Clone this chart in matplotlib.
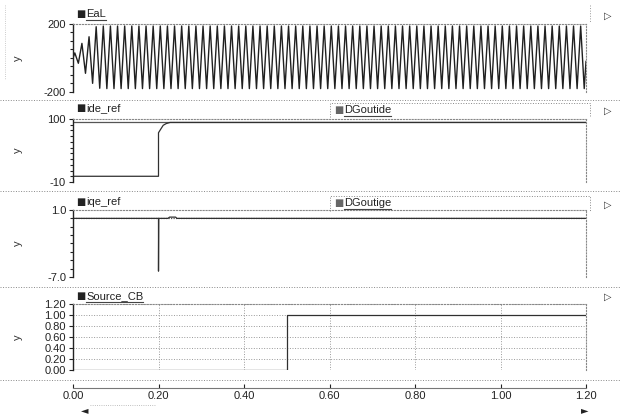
import numpy as np
import matplotlib
matplotlib.use("Agg")
import matplotlib.pyplot as plt
from matplotlib.lines import Line2D

W, H = 620, 419

# --- data ---
# EaL: 60 Hz voltage, half-cycle peak values (start-up transient, then steady)
eal_half_period = 1 / 120
eal_first_peak = 0.0042
eal_peaks = [30, -31, 86, -90, 125, -149, 184, -178,
             188, -180, 188, -180, 188, -180, 188, -180,
             188, -180, 188, -180, 188, -180, 188, -180,
             188, -180, 188, -180, 188, -180, 188, -180,
             188, -180, 188, -180, 188, -180, 188, -180,
             188, -180, 188, -180, 188, -180, 188, -180,
             188, -180, 188, -180, 188, -180, 188, -180,
             188, -180, 188, -180, 188, -180, 188, -180,
             188, -180, 188, -180, 188, -180, 188, -180,
             188, -180, 188, -180, 188, -180, 188, -180,
             188, -180, 188, -180, 188, -180, 188, -180,
             188, -180, 188, -180, 188, -180, 188, -180,
             188, -180, 188, -180, 188, -180, 188, -180,
             188, -180, 188, -180, 188, -180, 188, -180,
             188, -180, 188, -180, 188, -180, 188, -180,
             188, -180, 188, -180, 188, -180, 188, -180,
             188, -180, 188, -180, 188, -180, 188, -180,
             188, -180, 188, -180, 188, -180, 188, -180]

idc_t = [0.0, 0.0005, 0.2, 0.2, 0.205, 0.211, 0.218, 0.227, 1.2]
idc_v = [94, 0, 0, 76, 82, 89, 92, 94, 94]
dgoutide_t = [0.0, 1.2]
dgoutide_v = [94, 94]

iqe_t = [0.0, 0.2, 0.2, 0.2005, 0.222, 0.226, 0.24, 0.243, 1.2]
iqe_v = [0.0, 0.0, -6.3, 0.0, 0.0, 0.15, 0.15, 0.0, 0.0]
dgoutige_t = [0.0, 1.2]
dgoutige_v = [0.0, 0.0]

src_t = [0.0, 0.5, 0.5, 1.2]
src_v = [0.0, 0.0, 1.0, 1.0]

x_ticks = [0.0, 0.2, 0.4, 0.6, 0.8, 1.0, 1.2]

plt.rcParams['font.family'] = ['Liberation Sans', 'DejaVu Sans']
fig = plt.figure(figsize=(W / 100, H / 100), dpi=100)
fig.patch.set_facecolor('white')


def fx(x):
    return x / W


def fy(y):
    return 1 - y / H


def add_axes(top, bottom):
    ax = fig.add_axes([fx(73), fy(bottom), fx(586) - fx(73), fy(top) - fy(bottom)])
    ax.set_xlim(0, 1.2)
    ax.spines['left'].set_color('#222222')
    ax.spines['left'].set_linewidth(1.0)
    for s in ['top', 'right']:
        ax.spines[s].set_linestyle(':')
        ax.spines[s].set_color('#888888')
        ax.spines[s].set_linewidth(0.8)
    ax.spines['bottom'].set_visible(False)
    ax.tick_params(axis='y', which='both', direction='out', length=3, width=0.8,
                   labelsize=8, pad=2, colors='#222222')
    ax.tick_params(axis='y', which='minor', length=2.5)
    ax.tick_params(axis='x', bottom=False, labelbottom=False)
    ax.set_facecolor('white')
    return ax


line_kw = dict(color='#303030', linewidth=0.9)

# panel 1: EaL
ax1 = add_axes(24, 92)
eal_t = eal_first_peak + eal_half_period * np.arange(len(eal_peaks))
ax1.plot(np.r_[0.0, eal_t, 1.2], np.r_[0.0, eal_peaks, -20], color='#202020', linewidth=1.0)
ax1.set_ylim(-200, 200)
ax1.set_yticks([-200, 200])
ax1.set_yticklabels(['-200', '200'])
ax1.set_yticks(np.arange(-150, 200, 50), minor=True)

# panel 2: idc_ref / DGoutide
ax2 = add_axes(119, 182)
ax2.plot(dgoutide_t, dgoutide_v, color='#555555', linewidth=0.9)
ax2.plot(idc_t, idc_v, **line_kw)
ax2.set_ylim(-10, 100)
ax2.set_yticks([-10, 100])
ax2.set_yticklabels(['-10', '100'])
ax2.set_yticks(np.arange(0, 100, 10), minor=True)

# panel 3: iqe_ref / DGoutige
ax3 = add_axes(210, 277)
ax3.plot(dgoutige_t, dgoutige_v, color='#555555', linewidth=0.9, linestyle=(0, (1, 1)))
ax3.plot(iqe_t, iqe_v, **line_kw)
ax3.set_ylim(-7, 1)
ax3.set_yticks([-7, 1])
ax3.set_yticklabels(['-7.0', '1.0'])
ax3.set_yticks(np.arange(-6, 1, 1), minor=True)

# panel 4: Source_CB
ax4 = add_axes(304, 370)
ax4.plot(src_t, src_v, **line_kw)
ax4.set_ylim(0, 1.2)
y4 = [0.0, 0.2, 0.4, 0.6, 0.8, 1.0, 1.2]
ax4.set_yticks(y4)
ax4.set_yticklabels([f'{v:.2f}' for v in y4])
ax4.grid(True, linestyle=':', color='#999999', linewidth=0.7)
ax4.spines['bottom'].set_visible(True)
ax4.spines['bottom'].set_position(('outward', 13))
ax4.spines['bottom'].set_color('#777777')
ax4.spines['bottom'].set_linewidth(0.8)
ax4.set_xticks(x_ticks)
ax4.set_xticklabels([f'{v:.2f}' for v in x_ticks])
ax4.tick_params(axis='x', bottom=True, labelbottom=True, direction='in', length=3,
                labelsize=8, pad=2, colors='#222222')

# y labels
for ax, (t, b) in zip([ax1, ax2, ax3, ax4], [(24, 92), (119, 182), (210, 277), (304, 370)]):
    fig.text(fx(18), fy((t + b) / 2), 'y', rotation=90, fontsize=8, ha='center', va='center',
             color='#333333')

# legends
legends = [('EaL', 76, 14, '#222222'), ('ide_ref', 76, 108, '#222222'),
           ('iqe_ref', 76, 202, '#222222'), ('Source_CB', 76, 296, '#222222'),
           ('DGoutide', 334, 110, '#666666'), ('DGoutige', 334, 203, '#666666')]
fig.canvas.draw()
renderer = fig.canvas.get_renderer()
for name, x, y, c in legends:
    fig.text(fx(x), fy(y), '\u25a0', fontsize=7, ha='left', va='center', color=c,
             family='DejaVu Sans')
    t = fig.text(fx(x + 10), fy(y), name, fontsize=8, ha='left', va='center', color='#222222')
    bb = t.get_window_extent(renderer)
    if name not in ('ide_ref', 'iqe_ref'):
        fig.add_artist(Line2D([bb.x0 / W, bb.x1 / W], [bb.y0 / H - 0.003, bb.y0 / H - 0.003],
                              color='#444444', linewidth=0.8, transform=fig.transFigure))

# dotted legend boxes for DGout* entries
for y0, y1 in [(103, 117), (196, 211)]:
    fig.add_artist(Line2D([fx(330), fx(330), fx(590), fx(590)], [fy(y1), fy(y0), fy(y0), fy(y1)],
                          color='#888888', linewidth=0.7, linestyle=':', transform=fig.transFigure))

# panel separators
for y in [100, 191, 287, 380]:
    fig.add_artist(Line2D([0, 1], [fy(y), fy(y)], color='#888888', linewidth=0.7,
                          linestyle=':', transform=fig.transFigure))
# right border of plotting column
fig.add_artist(Line2D([fx(590), fx(590)], [fy(5), fy(22)], color='#999999', linewidth=0.7,
                      linestyle=':', transform=fig.transFigure))
fig.add_artist(Line2D([fx(5), fx(5)], [fy(5), fy(80)], color='#bbbbbb', linewidth=0.6,
                      linestyle=':', transform=fig.transFigure))

# side arrows
for y in [16, 111, 205, 297]:
    fig.text(fx(608), fy(y), '\u25b7', fontsize=7, ha='center', va='center',
             color='#333333', family='DejaVu Sans')

# scroll bar
fig.text(fx(85), fy(410), '\u25c4', fontsize=7, ha='center', va='center', color='#222222',
         family='DejaVu Sans')
fig.text(fx(585), fy(410), '\u25ba', fontsize=7, ha='center', va='center', color='#222222',
         family='DejaVu Sans')
fig.add_artist(Line2D([fx(90), fx(155)], [fy(405), fy(405)], color='#aaaaaa', linewidth=0.6,
                      linestyle=':', transform=fig.transFigure))

fig.savefig('out.png', dpi=100, facecolor='white')
